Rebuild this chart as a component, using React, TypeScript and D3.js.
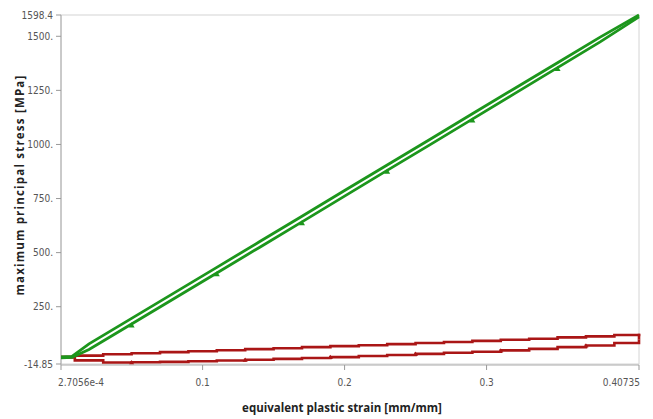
import React from "react";
import * as d3 from "d3";

// Strain samples (mm/mm) and stress (MPa) for each branch of the two loops
const greenStrain = [0.00027, 0.008, 0.02, 0.05, 0.08, 0.11, 0.14, 0.17, 0.2, 0.23, 0.26, 0.29, 0.32, 0.35, 0.38, 0.40735];
const greenUpper = [18, 20, 78, 196, 314, 432, 550, 668, 787, 905, 1023, 1142, 1260, 1378, 1496, 1598.4];
const greenLower = [14, 16, 52, 170, 288, 406, 524, 642, 761, 880, 998, 1117, 1236, 1355, 1474, 1590];

const redStrain = [0.00027, 0.01, 0.03, 0.05, 0.07, 0.09, 0.11, 0.13, 0.15, 0.17, 0.19, 0.21, 0.23, 0.25, 0.27, 0.29, 0.31, 0.33, 0.35, 0.37, 0.39, 0.40735];
const redUpper = [17, 24, 30, 35, 40, 44, 49, 54, 58, 63, 68, 72, 77, 82, 87, 92, 97, 102, 108, 113, 119, 125];
const redLower = [17, 2, -8, -7, -5, -2, 1, 5, 9, 13, 17, 22, 27, 32, 37, 42, 48, 55, 63, 71, 82, 98];

const greenMarkerIdx = [3, 5, 7, 9, 11, 13];
const redMarkerIdx = [3, 7, 10, 13, 16, 19];

const xTicks = [0.00027056, 0.1, 0.2, 0.3, 0.40735];
const xTickLabels = ["2.7056e-4", "0.1", "0.2", "0.3", "0.40735"];
const yTicks = [-14.85, 250, 500, 750, 1000, 1250, 1500, 1598.4];
const yTickLabels = ["-14.85", "250.", "500.", "750.", "1000.", "1250.", "1500.", "1598.4"];

const W = 653;
const H = 419;
const M = { left: 61, right: 639, top: 15, bottom: 364 };

const GREEN = "#1c961c";
const RED = "#aa1616";
const FONT = "'Liberation Sans Narrow', 'DejaVu Sans Condensed', 'Open Sans', sans-serif";

export default function App() {
  const x = d3.scaleLinear().domain([0.00027056, 0.40735]).range([M.left, M.right]);
  const y = d3.scaleLinear().domain([-14.85, 1598.4]).range([M.bottom, M.top]);

  const lineLin = d3
    .line<[number, number]>()
    .x((d) => x(d[0]))
    .y((d) => y(d[1]));
  const lineStep = d3
    .line<[number, number]>()
    .x((d) => x(d[0]))
    .y((d) => y(d[1]))
    .curve(d3.curveStepAfter);

  const gU = greenStrain.map((s, i) => [s, greenUpper[i]] as [number, number]);
  const gL = greenStrain.map((s, i) => [s, greenLower[i]] as [number, number]);
  const rU = redStrain.map((s, i) => [s, redUpper[i]] as [number, number]);
  const rL = redStrain.map((s, i) => [s, redLower[i]] as [number, number]);
  const rEnd = [rU[rU.length - 1], rL[rL.length - 1]];

  const tri = (cx: number, cy: number, s = 3) =>
    `M${cx - s},${cy + s * 0.8}L${cx + s},${cy + s * 0.8}L${cx},${cy - s * 0.9}Z`;

  return (
    <svg width={W} height={H} style={{ position: "absolute", left: 0, top: 0, background: "#fff" }}>
      {/* frame */}
      <rect x={M.left} y={M.top} width={M.right - M.left} height={M.bottom - M.top} fill="none" stroke="#d4d4d4" strokeWidth={1} />
      <line x1={M.left} x2={M.left} y1={M.top} y2={M.bottom + 1} stroke="#aaa" />
      <line x1={M.left} x2={M.right} y1={M.bottom + 1} y2={M.bottom + 1} stroke="#aaa" />

      {/* y ticks */}
      {yTicks.map((t, i) => (
        <g key={"y" + i}>
          <line x1={M.left - 5} x2={M.left} y1={y(t)} y2={y(t)} stroke="#999" />
          <text x={M.left - 8} y={y(t)} dy="0.35em" textAnchor="end" fontSize={10} fill="#555" fontFamily={FONT}>
            {yTickLabels[i]}
          </text>
        </g>
      ))}

      {/* x ticks */}
      {xTicks.map((t, i) => (
        <g key={"x" + i}>
          <line x1={x(t)} x2={x(t)} y1={M.bottom + 1} y2={M.bottom + 6} stroke="#999" />
          <text
            x={x(t) + (i === 0 ? -3 : i === xTicks.length - 1 ? 1 : 0)}
            y={M.bottom + 22}
            textAnchor={i === 0 ? "start" : i === xTicks.length - 1 ? "end" : "middle"}
            fontSize={10}
            fill="#555"
            fontFamily={FONT}
          >
            {xTickLabels[i]}
          </text>
        </g>
      ))}

      {/* red loop */}
      <g fill="none" stroke={RED} strokeWidth={2.6}>
        <path d={lineStep(rU) || ""} />
        <path d={lineStep(rL) || ""} />
        <path d={lineLin(rEnd) || ""} />
      </g>
      {redMarkerIdx.map((i) => (
        <path key={"rm" + i} d={tri(x(redStrain[i]), y(redLower[i]), 2.5)} fill={RED} />
      ))}

      {/* green loop */}
      <g fill="none" stroke={GREEN} strokeWidth={2.8}>
        <path d={lineLin(gU) || ""} />
        <path d={lineLin(gL) || ""} />
      </g>
      {greenMarkerIdx.map((i) => (
        <path key={"gm" + i} d={tri(x(greenStrain[i]), y(greenLower[i]) + 1, 3)} fill={GREEN} />
      ))}

      {/* axis titles */}
      <text
        x={342}
        y={412}
        textAnchor="middle"
        fontSize={11.5}
        fontWeight="bold"
        fill="#222"
        fontFamily="'Open Sans', sans-serif"
      >
        equivalent plastic strain [mm/mm]
      </text>
      <text
        transform={`translate(24, 185) rotate(-90)`}
        textAnchor="middle"
        fontSize={11.5}
        fontWeight="bold"
        fill="#222"
        letterSpacing={1.2}
        fontFamily="'Open Sans', sans-serif"
      >
        maximum principal stress [MPa]
      </text>
    </svg>
  );
}
